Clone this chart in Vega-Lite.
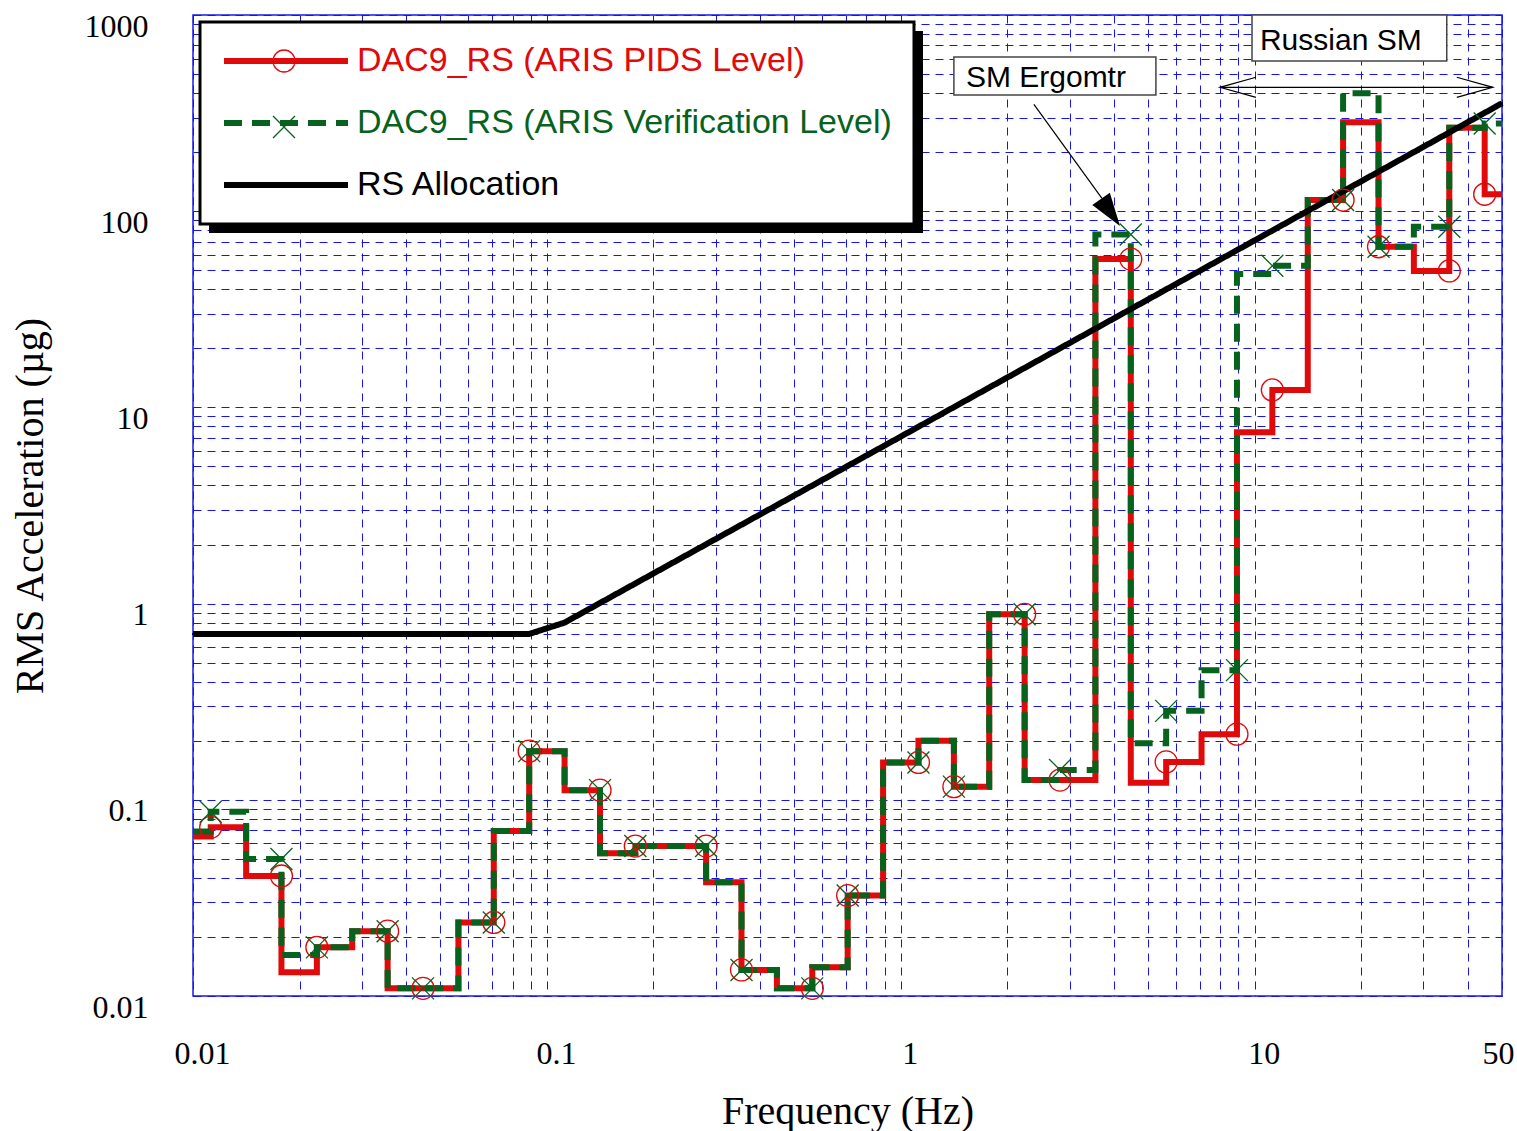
{
  "$schema": "https://vega.github.io/schema/vega-lite/v6.json",
  "width": 1309,
  "height": 981,
  "autosize": {"type": "none"},
  "padding": {"left": 193, "top": 15, "right": 15, "bottom": 135},
  "background": "white",
  "config": {
    "view": {"stroke": "#1a1ae6", "strokeWidth": 1.5},
    "legend": {"strokeWidth": 3}
  },
  "datasets": {
    "steps": [
      {"s": "P", "f": 0.01, "v": 0.065}, {"s": "P", "f": 0.01122, "v": 0.0724}, {"s": "P", "f": 0.01413, "v": 0.0409},
      {"s": "P", "f": 0.01778, "v": 0.0132}, {"s": "P", "f": 0.02239, "v": 0.0177}, {"s": "P", "f": 0.02818, "v": 0.0214},
      {"s": "P", "f": 0.03548, "v": 0.01094}, {"s": "P", "f": 0.04467, "v": 0.01094}, {"s": "P", "f": 0.05623, "v": 0.0237},
      {"s": "P", "f": 0.07079, "v": 0.0693}, {"s": "P", "f": 0.08913, "v": 0.177}, {"s": "P", "f": 0.1122, "v": 0.112},
      {"s": "P", "f": 0.1413, "v": 0.0534}, {"s": "P", "f": 0.1778, "v": 0.0581}, {"s": "P", "f": 0.2239, "v": 0.0581},
      {"s": "P", "f": 0.2818, "v": 0.038}, {"s": "P", "f": 0.3548, "v": 0.01358}, {"s": "P", "f": 0.4467, "v": 0.01094},
      {"s": "P", "f": 0.5623, "v": 0.014}, {"s": "P", "f": 0.7079, "v": 0.0325}, {"s": "P", "f": 0.8913, "v": 0.155},
      {"s": "P", "f": 1.122, "v": 0.2}, {"s": "P", "f": 1.413, "v": 0.1167}, {"s": "P", "f": 1.778, "v": 0.882},
      {"s": "P", "f": 2.239, "v": 0.126}, {"s": "P", "f": 2.818, "v": 0.126}, {"s": "P", "f": 3.548, "v": 57},
      {"s": "P", "f": 4.467, "v": 0.122}, {"s": "P", "f": 5.623, "v": 0.156}, {"s": "P", "f": 7.079, "v": 0.216},
      {"s": "P", "f": 8.913, "v": 7.47}, {"s": "P", "f": 11.22, "v": 12.27}, {"s": "P", "f": 14.13, "v": 114},
      {"s": "P", "f": 17.78, "v": 284}, {"s": "P", "f": 22.39, "v": 65.9}, {"s": "P", "f": 28.18, "v": 49.6},
      {"s": "P", "f": 35.48, "v": 266}, {"s": "P", "f": 44.67, "v": 122}, {"s": "P", "f": 50, "v": 122},
      {"s": "V", "f": 0.01, "v": 0.069}, {"s": "V", "f": 0.01122, "v": 0.0869}, {"s": "V", "f": 0.01413, "v": 0.0499},
      {"s": "V", "f": 0.01778, "v": 0.0162}, {"s": "V", "f": 0.02239, "v": 0.0177}, {"s": "V", "f": 0.02818, "v": 0.0214},
      {"s": "V", "f": 0.03548, "v": 0.01094}, {"s": "V", "f": 0.04467, "v": 0.01094}, {"s": "V", "f": 0.05623, "v": 0.0237},
      {"s": "V", "f": 0.07079, "v": 0.0693}, {"s": "V", "f": 0.08913, "v": 0.177}, {"s": "V", "f": 0.1122, "v": 0.112},
      {"s": "V", "f": 0.1413, "v": 0.0534}, {"s": "V", "f": 0.1778, "v": 0.0581}, {"s": "V", "f": 0.2239, "v": 0.0581},
      {"s": "V", "f": 0.2818, "v": 0.038}, {"s": "V", "f": 0.3548, "v": 0.01358}, {"s": "V", "f": 0.4467, "v": 0.01094},
      {"s": "V", "f": 0.5623, "v": 0.014}, {"s": "V", "f": 0.7079, "v": 0.0325}, {"s": "V", "f": 0.8913, "v": 0.155},
      {"s": "V", "f": 1.122, "v": 0.2}, {"s": "V", "f": 1.413, "v": 0.1167}, {"s": "V", "f": 1.778, "v": 0.882},
      {"s": "V", "f": 2.239, "v": 0.126}, {"s": "V", "f": 2.818, "v": 0.142}, {"s": "V", "f": 3.548, "v": 76},
      {"s": "V", "f": 4.467, "v": 0.194}, {"s": "V", "f": 5.623, "v": 0.284}, {"s": "V", "f": 7.079, "v": 0.458},
      {"s": "V", "f": 8.913, "v": 47.9}, {"s": "V", "f": 11.22, "v": 52.7}, {"s": "V", "f": 14.13, "v": 114},
      {"s": "V", "f": 17.78, "v": 399}, {"s": "V", "f": 22.39, "v": 65.9}, {"s": "V", "f": 28.18, "v": 83.3},
      {"s": "V", "f": 35.48, "v": 266}, {"s": "V", "f": 44.67, "v": 280}, {"s": "V", "f": 50, "v": 280}
    ],
    "alloc": [
      {"s": "A", "f": 0.01, "v": 0.7}, {"s": "A", "f": 0.0891, "v": 0.7}, {"s": "A", "f": 0.1122, "v": 0.8},
      {"s": "A", "f": 1, "v": 7.1}, {"s": "A", "f": 10, "v": 71}, {"s": "A", "f": 50, "v": 355}
    ],
    "markers": [
      {"s": "P", "f": 0.01122, "v": 0.0724}, {"s": "P", "f": 0.01778, "v": 0.0409}, {"s": "P", "f": 0.02239, "v": 0.0177},
      {"s": "P", "f": 0.03548, "v": 0.0214}, {"s": "P", "f": 0.04467, "v": 0.01094}, {"s": "P", "f": 0.07079, "v": 0.0237},
      {"s": "P", "f": 0.08913, "v": 0.177}, {"s": "P", "f": 0.1413, "v": 0.112}, {"s": "P", "f": 0.1778, "v": 0.0581},
      {"s": "P", "f": 0.2818, "v": 0.0581}, {"s": "P", "f": 0.3548, "v": 0.01358}, {"s": "P", "f": 0.5623, "v": 0.01094},
      {"s": "P", "f": 0.7079, "v": 0.0325}, {"s": "P", "f": 1.122, "v": 0.155}, {"s": "P", "f": 1.413, "v": 0.1167},
      {"s": "P", "f": 2.239, "v": 0.882}, {"s": "P", "f": 2.818, "v": 0.126}, {"s": "P", "f": 4.467, "v": 57},
      {"s": "P", "f": 5.623, "v": 0.156}, {"s": "P", "f": 8.913, "v": 0.216}, {"s": "P", "f": 11.22, "v": 12.27},
      {"s": "P", "f": 17.78, "v": 114}, {"s": "P", "f": 22.39, "v": 65.9}, {"s": "P", "f": 35.48, "v": 49.6},
      {"s": "P", "f": 44.67, "v": 122},
      {"s": "V", "f": 0.01122, "v": 0.0869}, {"s": "V", "f": 0.01778, "v": 0.0499}, {"s": "V", "f": 0.02239, "v": 0.0177},
      {"s": "V", "f": 0.03548, "v": 0.0214}, {"s": "V", "f": 0.04467, "v": 0.01094}, {"s": "V", "f": 0.07079, "v": 0.0237},
      {"s": "V", "f": 0.08913, "v": 0.177}, {"s": "V", "f": 0.1413, "v": 0.112}, {"s": "V", "f": 0.1778, "v": 0.0581},
      {"s": "V", "f": 0.2818, "v": 0.0581}, {"s": "V", "f": 0.3548, "v": 0.01358}, {"s": "V", "f": 0.5623, "v": 0.01094},
      {"s": "V", "f": 0.7079, "v": 0.0325}, {"s": "V", "f": 1.122, "v": 0.155}, {"s": "V", "f": 1.413, "v": 0.1167},
      {"s": "V", "f": 2.239, "v": 0.882}, {"s": "V", "f": 2.818, "v": 0.142}, {"s": "V", "f": 4.467, "v": 76},
      {"s": "V", "f": 5.623, "v": 0.284}, {"s": "V", "f": 8.913, "v": 0.458}, {"s": "V", "f": 11.22, "v": 52.7},
      {"s": "V", "f": 17.78, "v": 114}, {"s": "V", "f": 22.39, "v": 65.9}, {"s": "V", "f": 35.48, "v": 83.3},
      {"s": "V", "f": 44.67, "v": 280}
    ],
    "boxes": [
      {"f": 1.413, "f2": 5.26, "v": 611, "v2": 391},
      {"f": 9.83, "f2": 34.9, "v": 1000, "v2": 583}
    ],
    "notes": [
      {"label": "SM Ergomtr", "f": 1.528, "v": 477},
      {"label": "Russian SM", "f": 10.35, "v": 740}
    ],
    "leaders": [
      {"f": 2.378, "v": 350.7, "f2": 3.703, "v2": 116.3},
      {"f": 7.98, "v": 428, "f2": 47.1, "v2": 428}
    ],
    "head": [{"f": 3.915, "v": 98.5}],
    "chevrons": [
      {"side": "left", "f": 7.98, "v": 428},
      {"side": "right", "f": 47.1, "v": 428}
    ]
  },
  "encoding": {
    "x": {
      "field": "f", "type": "quantitative",
      "scale": {"type": "log", "domain": [0.01, 50], "nice": false},
      "axis": {
        "values": [0.01, 0.02, 0.03, 0.04, 0.05, 0.06, 0.07, 0.08, 0.09, 0.1, 0.2, 0.3, 0.4, 0.5, 0.6, 0.7, 0.8, 0.9, 1, 2, 3, 4, 5, 6, 7, 8, 9, 10, 20, 30, 40, 50],
        "labelExpr": "indexof([0.01, 0.1, 1, 10, 50], datum.value) >= 0 ? format(datum.value, '~g') : ''",
        "grid": true, "gridColor": "#1515e6", "gridDash": [8, 6], "gridWidth": 1,
        "ticks": false, "domain": false,
        "labelFont": "Liberation Serif", "labelFontSize": 32, "labelColor": "black",
        "labelPadding": 42, "labelFlush": false, "labelOverlap": false, "labelBound": false,
        "labelOffset": {"condition": {"test": "datum.value == 50", "value": -4}, "value": 9},
        "title": "Frequency (Hz)", "titleFont": "Liberation Serif", "titleFontSize": 40,
        "titleFontWeight": "normal", "titleColor": "black", "titlePadding": 22
      }
    },
    "y": {
      "field": "v", "type": "quantitative",
      "scale": {"type": "log", "domain": [0.01, 1000], "nice": false},
      "axis": {
        "values": [0.01, 0.02, 0.03, 0.04, 0.05, 0.06, 0.07, 0.08, 0.09, 0.1, 0.2, 0.3, 0.4, 0.5, 0.6, 0.7, 0.8, 0.9, 1, 2, 3, 4, 5, 6, 7, 8, 9, 10, 20, 30, 40, 50, 60, 70, 80, 90, 100, 200, 300, 400, 500, 600, 700, 800, 900, 1000],
        "labelExpr": "indexof([0.01, 0.1, 1, 10, 100, 1000], datum.value) >= 0 ? format(datum.value, '~g') : ''",
        "grid": true, "gridColor": "#1515e6", "gridDash": [8, 6], "gridWidth": 1,
        "ticks": false, "domain": false,
        "labelFont": "Liberation Serif", "labelFontSize": 32, "labelColor": "black",
        "labelPadding": 45, "labelOverlap": false, "labelBound": false, "labelOffset": 11,
        "title": "RMS Acceleration (µg)", "titleFont": "Liberation Serif", "titleFontSize": 40,
        "titleFontWeight": "normal", "titleColor": "black", "titlePadding": 34
      }
    }
  },
  "layer": [
    {
      "data": {"name": "steps"},
      "mark": {"type": "line", "interpolate": "step-after", "strokeWidth": 6},
      "encoding": {
        "color": {
          "field": "s", "type": "nominal",
          "scale": {"domain": ["P", "V", "A"], "range": ["#e00a0a", "#07621e", "#000000"]},
          "legend": {
            "orient": "none", "legendX": 7, "legendY": 7, "title": null,
            "symbolType": "M-1.154,0L8.385,0", "symbolSize": 676, "symbolStrokeWidth": 6,
            "labelFont": "Liberation Sans", "labelFontSize": 34, "labelLimit": 1000, "labelOffset": 101,
            "labelExpr": "datum.value == 'P' ? 'DAC9_RS (ARIS PIDS Level)' : datum.value == 'V' ? 'DAC9_RS (ARIS Verification Level)' : 'RS Allocation'",
            "rowPadding": 28, "padding": 22, "strokeColor": "black", "fillColor": "white", "zindex": 2,
            "encode": {"labels": {"update": {"fill": {"scale": "color", "field": "value"}}}}
          }
        },
        "strokeDash": {
          "field": "s", "type": "nominal",
          "scale": {"domain": ["P", "V", "A"], "range": [[1, 0], [18, 10], [1, 0]]}
        }
      }
    },
    {
      "data": {"name": "alloc"},
      "mark": {"type": "line", "strokeWidth": 6},
      "encoding": {
        "color": {"field": "s", "type": "nominal"},
        "strokeDash": {"field": "s", "type": "nominal"}
      }
    },
    {
      "data": {"name": "alloc"},
      "mark": {"type": "point", "filled": true, "color": "black", "size": 4},
      "encoding": {
        "opacity": {
          "field": "s", "type": "ordinal",
          "scale": {"domain": ["A"], "range": [1]},
          "legend": {
            "orient": "none", "legendX": 15, "legendY": 15, "title": null,
            "symbolType": "M0,0h714v202h-714Z", "symbolSize": 4, "symbolStrokeWidth": 0,
            "symbolFillColor": "black", "symbolStrokeColor": "black", "symbolOpacity": 1,
            "labelExpr": "''", "labelFontSize": 1, "padding": 0,
            "strokeColor": "transparent", "fillColor": "transparent", "zindex": 1
          }
        }
      }
    },
    {
      "data": {"name": "markers"},
      "mark": {"type": "point", "filled": false, "size": 484, "strokeWidth": 1.3, "opacity": 1},
      "encoding": {
        "color": {"field": "s", "type": "nominal"},
        "shape": {
          "field": "s", "type": "nominal",
          "scale": {"domain": ["P", "V"], "range": ["circle", "M-1,-1L1,1M-1,1L1,-1"]},
          "legend": {
            "orient": "none", "legendX": 57, "legendY": 12, "title": null,
            "symbolSize": 484, "symbolStrokeWidth": 1.3,
            "symbolStrokeColor": {"expr": "datum.value == 'P' ? '#e00a0a' : '#07621e'"},
            "symbolFillColor": "transparent",
            "labelExpr": "''", "labelFontSize": 1,
            "rowPadding": 38, "padding": 22, "strokeColor": "transparent", "fillColor": "transparent", "zindex": 3
          }
        }
      }
    },
    {
      "data": {"name": "boxes"},
      "mark": {"type": "rect", "fill": "white", "stroke": "#444444", "strokeWidth": 1.5},
      "encoding": {"x2": {"field": "f2"}, "y2": {"field": "v2"}}
    },
    {
      "data": {"name": "notes"},
      "mark": {"type": "text", "align": "left", "baseline": "middle", "font": "Liberation Sans", "fontSize": 30, "color": "black"},
      "encoding": {"text": {"field": "label", "type": "nominal"}}
    },
    {
      "data": {"name": "leaders"},
      "mark": {"type": "rule", "color": "black", "strokeWidth": 1.2},
      "encoding": {"x2": {"field": "f2"}, "y2": {"field": "v2"}}
    },
    {
      "data": {"name": "head"},
      "mark": {"type": "point", "shape": "M0,1L-0.65,-1L0.65,-1Z", "filled": true, "color": "black", "size": 1089, "angle": -35, "opacity": 1}
    },
    {
      "data": {"name": "chevrons"},
      "transform": [{"filter": "datum.side == 'left'"}],
      "mark": {"type": "point", "shape": "M2,-0.56L0,0L2,0.56", "filled": false, "color": "black", "strokeWidth": 1.2, "size": 1296, "opacity": 1}
    },
    {
      "data": {"name": "chevrons"},
      "transform": [{"filter": "datum.side == 'right'"}],
      "mark": {"type": "point", "shape": "M-2,-0.56L0,0L-2,0.56", "filled": false, "color": "black", "strokeWidth": 1.2, "size": 1296, "opacity": 1}
    }
  ]
}
